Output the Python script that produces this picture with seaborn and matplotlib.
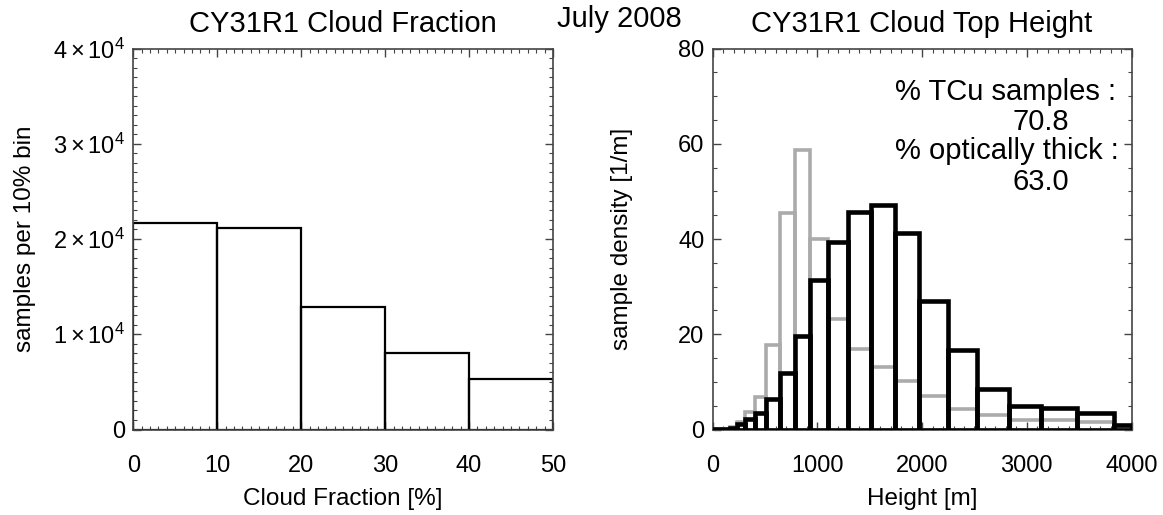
import numpy as np
import pandas as pd
import matplotlib
matplotlib.use("Agg")
import matplotlib.pyplot as plt
import seaborn as sns
from matplotlib.ticker import MultipleLocator, FuncFormatter

# ---------------- data ----------------
# Left panel: samples per 10% cloud-fraction bin
cf_edges = [0, 10, 20, 30, 40, 50]
cf_counts = [21700, 21200, 12900, 8000, 5350]

# Right panel: cloud top height sample density (bins follow model levels)
h_edges = [0, 165, 229, 308, 403, 510, 642, 782, 927, 1102, 1293, 1516,
           1737, 1975, 2246, 2527, 2830, 3140, 3480, 3832, 4000]
dens_black = [0.2, 0.4, 1.2, 2.2, 3.4, 6.4, 11.8, 19.7, 31.3, 39.3, 45.6,
              47.2, 41.2, 26.9, 16.7, 8.6, 5.0, 4.6, 3.5, 1.0]
dens_grey = [0.1, 0.6, 1.5, 3.6, 6.8, 17.7, 45.5, 58.7, 39.9, 23.2, 16.8,
             13.2, 10.2, 7.0, 4.4, 3.0, 1.9, 2.0, 1.5, 0.3]

tcu_pct = 70.8
thick_pct = 63.0

# ---------------- style ----------------
sns.set_theme(style="ticks")
plt.rcParams['font.family'] = ['Liberation Sans', 'DejaVu Sans']
plt.rcParams['mathtext.fontset'] = 'custom'
plt.rcParams['mathtext.rm'] = 'Liberation Sans'
plt.rcParams['mathtext.it'] = 'Liberation Sans:italic'
plt.rcParams['mathtext.bf'] = 'Liberation Sans:bold'
plt.rcParams['text.color'] = 'black'
plt.rcParams['axes.labelcolor'] = 'black'
plt.rcParams['xtick.labelcolor'] = 'black'
plt.rcParams['ytick.labelcolor'] = 'black'

W, H = 1163, 515
fig = plt.figure(figsize=(W / 100, H / 100), dpi=100)
ax1 = fig.add_axes([133.3 / W, 85.5 / H, 419.7 / W, 381 / H])
ax2 = fig.add_axes([712.7 / W, 85.5 / H, 418.8 / W, 381 / H])

# ---------------- left histogram ----------------
cf_centers = [(a + b) / 2 for a, b in zip(cf_edges[:-1], cf_edges[1:])]
cf_df = pd.DataFrame({"cf": cf_centers, "n": cf_counts})
sns.histplot(data=cf_df, x="cf", weights="n", bins=cf_edges, fill=False,
             element="bars", color="black", linewidth=1.6, ax=ax1)
ax1.set_xlim(0, 50)
ax1.set_ylim(0, 40000)
ax1.xaxis.set_major_locator(MultipleLocator(10))
ax1.xaxis.set_minor_locator(MultipleLocator(1))
ax1.yaxis.set_major_locator(MultipleLocator(10000))
ax1.yaxis.set_minor_locator(MultipleLocator(1000))
ax1.yaxis.set_major_formatter(FuncFormatter(
    lambda v, p: '0' if v == 0 else r'$%d\times10^{4}$' % round(v / 1e4)))

# ---------------- right histogram ----------------
h_centers = [(a + b) / 2 for a, b in zip(h_edges[:-1], h_edges[1:])]
h_df = pd.DataFrame({"h": h_centers, "grey": dens_grey, "black": dens_black})
sns.histplot(data=h_df, x="h", weights="grey", bins=h_edges, fill=False,
             element="bars", color="#ababab", linewidth=2.6, ax=ax2, zorder=2)
sns.histplot(data=h_df, x="h", weights="black", bins=h_edges, fill=False,
             element="bars", color="black", linewidth=3.3, ax=ax2, zorder=3)
ax2.set_xlim(0, 4000)
ax2.set_ylim(0, 80)
ax2.xaxis.set_major_locator(MultipleLocator(1000))
ax2.xaxis.set_minor_locator(MultipleLocator(100))
ax2.yaxis.set_major_locator(MultipleLocator(20))
ax2.yaxis.set_minor_locator(MultipleLocator(5))

for ax in (ax1, ax2):
    ax.set_xlabel('')
    ax.set_ylabel('')
    for s in ax.spines.values():
        s.set_visible(True)
        s.set_color('#444444')
        s.set_linewidth(1.2)
    ax.tick_params(which='both', direction='in', top=True, right=True,
                   bottom=True, left=True, color='#444444', labelcolor='black')
    ax.tick_params(which='major', length=6, width=1.0)
    ax.tick_params(which='minor', length=3, width=0.8)
    ax.tick_params(axis='x', which='major', pad=18, labelsize=17)
    ax.tick_params(axis='y', which='major', pad=6, labelsize=17)

# ---------------- texts ----------------
fig.text(342.5 / W, 1 - 32 / H, 'CY31R1 Cloud Fraction', ha='center',
         va='baseline', fontsize=21)
fig.text(619 / W, 1 - 26.7 / H, 'July 2008', ha='center', va='baseline',
         fontsize=21)
fig.text(922 / W, 1 - 32 / H, 'CY31R1 Cloud Top Height', ha='center',
         va='baseline', fontsize=21)

fig.text(343 / W, 1 - 505 / H, 'Cloud Fraction [%]', ha='center',
         va='baseline', fontsize=17.5)
fig.text(922 / W, 1 - 505 / H, 'Height [m]', ha='center', va='baseline',
         fontsize=17.5)
fig.text(25 / W, 1 - 239 / H, 'samples per 10% bin', ha='center',
         va='center', rotation=90, fontsize=17.5)
fig.text(622 / W, 1 - 239 / H, 'sample density [1/m]', ha='center',
         va='center', rotation=90, fontsize=17.5)

ax2.text(0.435, 0.865, '% TCu samples :', transform=ax2.transAxes,
         ha='left', va='baseline', fontsize=21)
ax2.text(0.715, 0.786, f'{tcu_pct:.1f}', transform=ax2.transAxes,
         ha='left', va='baseline', fontsize=21)
ax2.text(0.435, 0.709, '% optically thick :', transform=ax2.transAxes,
         ha='left', va='baseline', fontsize=21)
ax2.text(0.715, 0.629, f'{thick_pct:.1f}', transform=ax2.transAxes,
         ha='left', va='baseline', fontsize=21)

fig.savefig('out.png', dpi=100, facecolor='white')
